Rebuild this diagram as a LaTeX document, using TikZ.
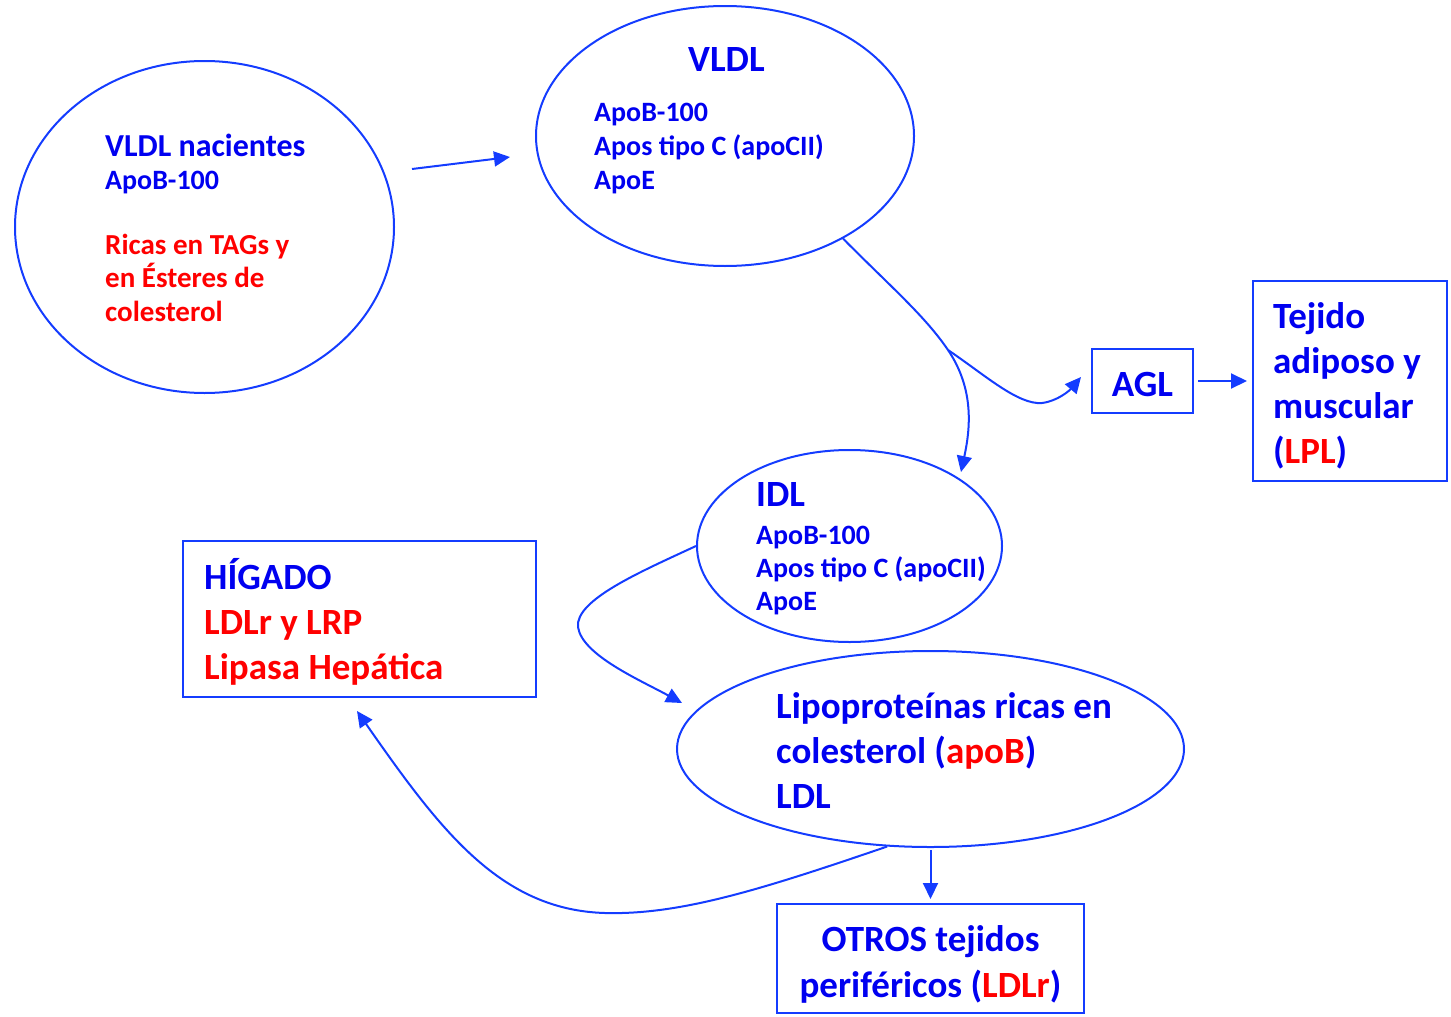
\documentclass[tikz,border=0pt]{standalone}
\usepackage{fontspec}
\setmainfont{Carlito}
\usetikzlibrary{arrows.meta,shapes.geometric}
\definecolor{txtblue}{RGB}{0,0,240}
\definecolor{lineblue}{RGB}{20,60,255}
\definecolor{txtred}{RGB}{255,0,0}
\tikzset{
  bubble/.style={ellipse,draw=lineblue,line width=2pt,inner sep=0pt},
  frame/.style={rectangle,draw=lineblue,line width=2pt,inner sep=0pt},
  small/.style={font=\bfseries\fontsize{28}{33}\selectfont,text=txtblue,align=left,anchor=base west,inner sep=0pt},
  big/.style={font=\bfseries\fontsize{37}{45}\selectfont,text=txtblue,align=left,anchor=base west,inner sep=0pt},
  flow/.style={draw=lineblue,line width=2pt,-{Triangle[length=16pt,width=15pt]}},
  link/.style={draw=lineblue,line width=2pt}
}
\begin{document}
\begin{tikzpicture}[x=1pt,y=-1pt]
\useasboundingbox (0,0) rectangle (1451,1017);

% lipoprotein bubbles
\node[bubble,minimum width=379pt,minimum height=332pt] (vn) at (204.5,227) {};
\node[bubble,minimum width=378pt,minimum height=260pt] (vldl) at (725,136) {};
\node[bubble,minimum width=305pt,minimum height=192pt] (idl) at (849.5,546) {};
\node[bubble,minimum width=507pt,minimum height=196pt] (ldl) at (930.5,749) {};

% boxes
\node[frame,minimum width=353pt,minimum height=156pt] (hig) at (359.5,619) {};
\node[frame,minimum width=101pt,minimum height=64pt] (agl) at (1142.5,381) {};
\node[frame,minimum width=194pt,minimum height=200pt] (tej) at (1350,381) {};
\node[frame,minimum width=307pt,minimum height=109pt] (otros) at (930.5,958.5) {};

% texts (multi-line nodes are placed by the baseline of their last line)
\node[small,font=\bfseries\fontsize{32}{33}\selectfont] (vnt) at (105,156) {VLDL nacientes};
\node[small] (vnapo) at (105,189) {ApoB-100};
\node[small,font=\bfseries\fontsize{29}{33.5}\selectfont,text=txtred] (vnr) at (105,321) {Ricas en TAGs y\\en Ésteres de\\colesterol};
\node[big] (vldlt) at (688,71) {VLDL};
\node[small,font=\bfseries\fontsize{28}{34}\selectfont] (vldll) at (594,189) {ApoB-100\\Apos tipo C (apoCII)\\ApoE};
\node[big] (idlt) at (756,506) {IDL};
\node[small] (idll) at (756,610) {ApoB-100\\Apos tipo C (apoCII)\\ApoE};
\node[big] (ldlt) at (776,808) {Lipoproteínas ricas en\\colesterol (\textcolor{txtred}{apoB})\\LDL};
\node[big] (higt) at (204,679) {HÍGADO\\\textcolor{txtred}{LDLr y LRP}\\\textcolor{txtred}{Lipasa Hepática}};
\node[big,anchor=base] (aglt) at (1142.5,396) {AGL};
\node[big] (tejt) at (1273,463) {Tejido\\adiposo y\\muscular\\(\textcolor{txtred}{LPL})};
\node[big,font=\bfseries\fontsize{37}{46}\selectfont,align=center,anchor=base] (otrost) at (930.5,997) {OTROS tejidos\\periféricos (\textcolor{txtred}{LDLr})};

% connector end points
\coordinate (a0) at (412,169);
\coordinate (a1) at (510,157);
\coordinate (j) at (948,350);
\coordinate (idlin) at (961,472);
\coordinate (aglin) at (1081,377);
\coordinate (ldlin) at (682,703);
\coordinate (higin) at (357,711);

% connectors
\draw[flow] (a0) -- (a1);
\draw[link] (vldl.-41.4) .. controls (890,286) and (925,316) .. (j);
\draw[flow] (j) .. controls (975,390) and (970,430) .. (idlin);
\draw[flow] (j) .. controls (985,375) and (1018,405) .. (1042,403)
                 .. controls (1058,401) and (1070,390) .. (aglin);
\draw[flow,shorten <=4pt,shorten >=5pt] (agl.east) -- (tej.west);
\draw[flow] (idl.west) .. controls (640,572) and (575,600) .. (578,627)
                      .. controls (582,655) and (640,680) .. (ldlin);
\draw[flow] (ldl.-114) .. controls (760,890) and (680,915) .. (605,913)
                      .. controls (500,910) and (440,830) .. (higin);
\draw[flow,shorten <=2pt,shorten >=4pt] (ldl.south) -- (otros.north);
\end{tikzpicture}
\end{document}
